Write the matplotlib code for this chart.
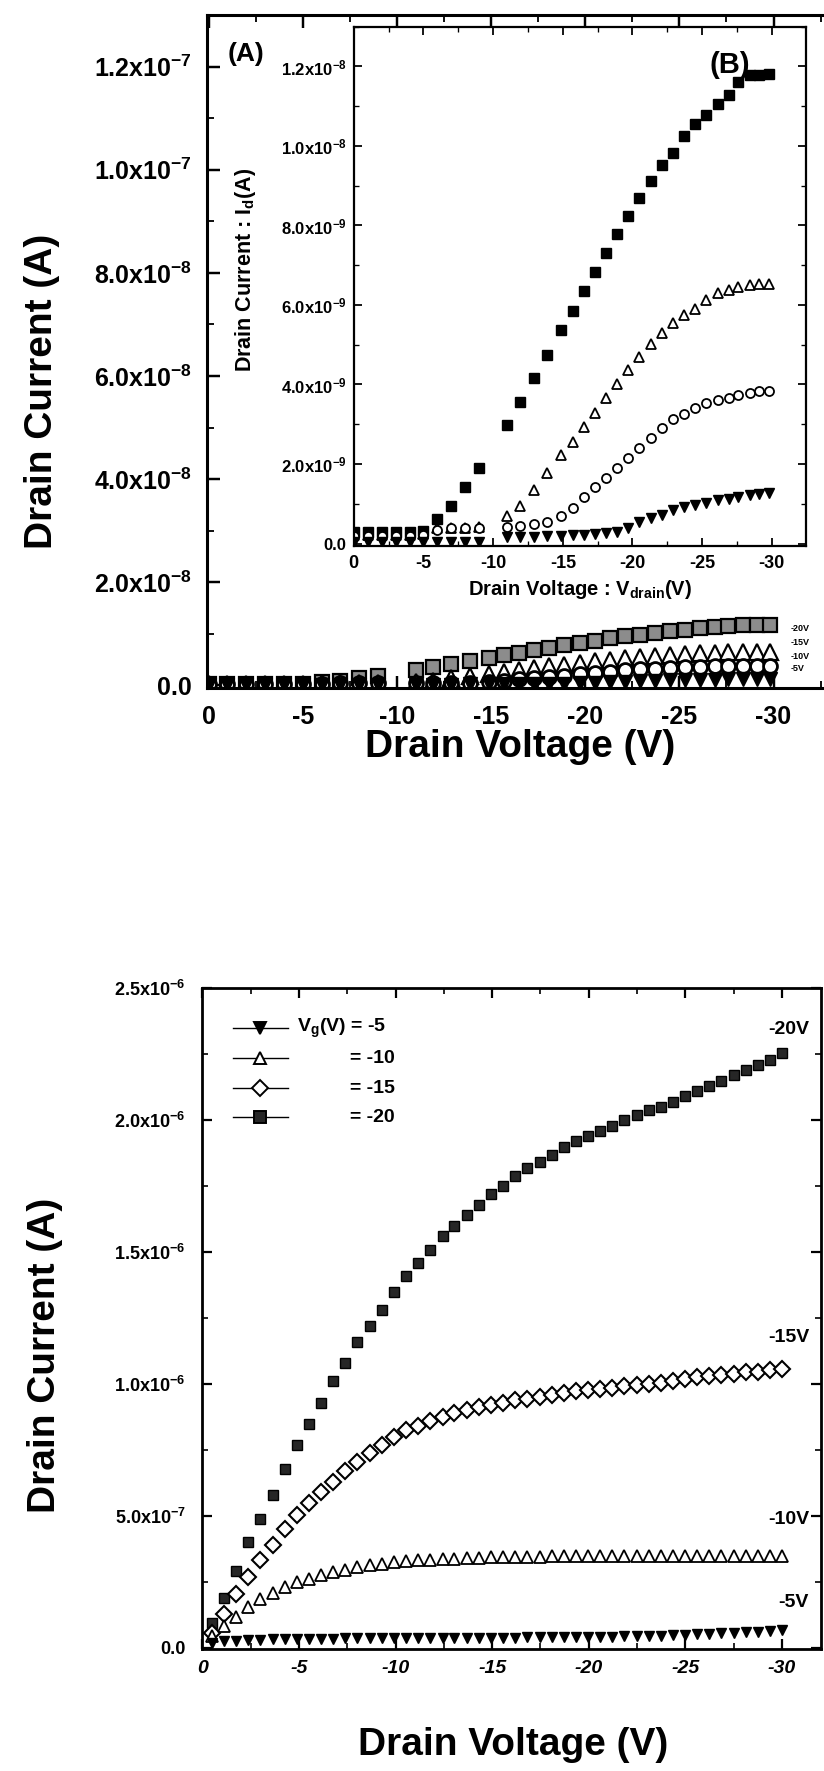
import matplotlib
matplotlib.use('Agg')
import numpy as np
import matplotlib.pyplot as plt
from matplotlib.lines import Line2D
from matplotlib.ticker import FixedLocator, MultipleLocator

plt.rcParams['font.family'] = ['Liberation Sans', 'DejaVu Sans']
plt.rcParams['font.weight'] = 'bold'
plt.rcParams['mathtext.fontset'] = 'custom'
plt.rcParams['mathtext.rm'] = 'Liberation Sans:bold'
plt.rcParams['mathtext.bf'] = 'Liberation Sans:bold'
plt.rcParams['mathtext.it'] = 'Liberation Sans:italic:bold'
plt.rcParams['mathtext.sf'] = 'Liberation Sans:bold'
plt.rcParams['mathtext.default'] = 'bf'
plt.rcParams['axes.unicode_minus'] = False

# ---------------- data: top panel (A) and inset (B) ----------------
vd_top = [0, -1, -2, -3, -4, -5, -6, -7, -8, -9,
          -11.0, -11.9, -12.9, -13.9, -14.9, -15.7, -16.5, -17.3, -18.1, -18.9,
          -19.7, -20.5, -21.3, -22.1, -22.9, -23.7, -24.5, -25.3, -26.1, -26.9,
          -27.6, -28.4, -29.1, -29.8]
# drain current in units of 1e-9 A
id_top_vg20 = [0.30, 0.30, 0.30, 0.30, 0.30, 0.32, 0.62, 0.94, 1.41, 1.89,
               2.98, 3.57, 4.17, 4.74, 5.37, 5.85, 6.35, 6.83, 7.32, 7.78,
               8.24, 8.68, 9.11, 9.51, 9.82, 10.25, 10.56, 10.77, 11.06, 11.27,
               11.60, 11.78, 11.79, 11.80]
id_top_vg15 = [0.22, 0.22, 0.22, 0.22, 0.22, 0.25, 0.38, 0.40, 0.40, 0.42,
               0.68, 0.94, 1.35, 1.78, 2.23, 2.56, 2.94, 3.29, 3.67, 4.01,
               4.36, 4.70, 5.01, 5.30, 5.54, 5.74, 5.91, 6.12, 6.29, 6.37,
               6.45, 6.50, 6.52, 6.53]
id_top_vg10 = [0.20, 0.20, 0.20, 0.20, 0.20, 0.22, 0.35, 0.38, 0.38, 0.40,
               0.41, 0.43, 0.49, 0.55, 0.68, 0.90, 1.16, 1.41, 1.66, 1.91,
               2.15, 2.40, 2.65, 2.90, 3.12, 3.27, 3.40, 3.53, 3.61, 3.67,
               3.73, 3.78, 3.83, 3.84]
id_top_vg5 = [0.05, 0.05, 0.05, 0.05, 0.05, 0.05, 0.05, 0.05, 0.05, 0.05,
              0.16, 0.16, 0.17, 0.19, 0.19, 0.22, 0.22, 0.24, 0.26, 0.30,
              0.38, 0.55, 0.64, 0.72, 0.84, 0.91, 0.97, 1.03, 1.10, 1.13,
              1.18, 1.21, 1.25, 1.26]
top_curve_labels = ['-20V', '-15V', '-10V', '-5V']

a_xticks = [0, -5, -10, -15, -20, -25, -30]
a_xticklabels = ['0', '-5', '-10', '-15', '-20', '-25', '-30']
a_yticks = [0, 2e-8, 4e-8, 6e-8, 8e-8, 1.0e-7, 1.2e-7]
a_yticklabels = ['0.0', r'2.0x10$^{-8}$', r'4.0x10$^{-8}$', r'6.0x10$^{-8}$',
                 r'8.0x10$^{-8}$', r'1.0x10$^{-7}$', r'1.2x10$^{-7}$']
b_yticks = [0, 2e-9, 4e-9, 6e-9, 8e-9, 1.0e-8, 1.2e-8]
b_yticklabels = ['0.0', r'2.0x10$^{-9}$', r'4.0x10$^{-9}$', r'6.0x10$^{-9}$',
                 r'8.0x10$^{-9}$', r'1.0x10$^{-8}$', r'1.2x10$^{-8}$']

# ---------------- data: bottom panel ----------------
vd_bot = [-0.50, -1.13, -1.76, -2.38, -3.01, -3.64, -4.27, -4.89, -5.52, -6.15,
          -6.78, -7.40, -8.03, -8.66, -9.29, -9.92, -10.54, -11.17, -11.80, -12.43,
          -13.05, -13.68, -14.31, -14.94, -15.56, -16.19, -16.82, -17.45, -18.07, -18.70,
          -19.33, -19.96, -20.58, -21.21, -21.84, -22.47, -23.10, -23.72, -24.35, -24.98,
          -25.61, -26.23, -26.86, -27.49, -28.12, -28.74, -29.37, -30.00]
# drain current in units of 1e-6 A
id_bot_vg20 = [0.094, 0.19, 0.29, 0.40, 0.49, 0.58, 0.68, 0.77, 0.85, 0.93,
               1.01, 1.08, 1.16, 1.22, 1.28, 1.35, 1.41, 1.46, 1.51, 1.56,
               1.60, 1.64, 1.68, 1.72, 1.75, 1.79, 1.82, 1.84, 1.87, 1.90,
               1.92, 1.94, 1.96, 1.98, 2.00, 2.02, 2.04, 2.05, 2.07, 2.09,
               2.11, 2.13, 2.15, 2.17, 2.19, 2.21, 2.23, 2.255]
id_bot_vg15 = [0.055, 0.13, 0.205, 0.27, 0.335, 0.39, 0.45, 0.505, 0.55, 0.59,
               0.63, 0.67, 0.705, 0.74, 0.77, 0.80, 0.825, 0.84, 0.86, 0.875,
               0.89, 0.903, 0.912, 0.92, 0.93, 0.938, 0.945, 0.952, 0.96, 0.966,
               0.972, 0.977, 0.982, 0.987, 0.992, 0.995, 1.00, 1.006, 1.013, 1.02,
               1.026, 1.031, 1.035, 1.04, 1.044, 1.047, 1.052, 1.057]
id_bot_vg10 = [0.045, 0.085, 0.118, 0.155, 0.185, 0.207, 0.232, 0.25, 0.263, 0.275,
               0.287, 0.297, 0.306, 0.313, 0.32, 0.325, 0.329, 0.332, 0.335, 0.337,
               0.339, 0.341, 0.342, 0.343, 0.344, 0.345, 0.346, 0.346, 0.347, 0.347,
               0.347, 0.347, 0.348, 0.348, 0.348, 0.348, 0.348, 0.348, 0.349, 0.349,
               0.349, 0.349, 0.349, 0.349, 0.35, 0.35, 0.35, 0.35]
id_bot_vg5 = [0.02, 0.025, 0.028, 0.03, 0.032, 0.033, 0.034, 0.034, 0.035, 0.035,
              0.035, 0.036, 0.036, 0.036, 0.036, 0.037, 0.037, 0.037, 0.037, 0.038,
              0.038, 0.038, 0.038, 0.039, 0.039, 0.039, 0.04, 0.04, 0.04, 0.041,
              0.041, 0.042, 0.042, 0.043, 0.044, 0.045, 0.046, 0.047, 0.048, 0.05,
              0.052, 0.053, 0.055, 0.057, 0.059, 0.062, 0.065, 0.068]
legend_labels = [r'V$_g$(V) = -5', '= -10', '= -15', '= -20']
bot_curve_labels = ['-20V', '-15V', '-10V', '-5V']
c_yticks = [0, 5e-7, 1.0e-6, 1.5e-6, 2.0e-6, 2.5e-6]
c_yticklabels = ['0.0', r'5.0x10$^{-7}$', r'1.0x10$^{-6}$', r'1.5x10$^{-6}$',
                 r'2.0x10$^{-6}$', r'2.5x10$^{-6}$']

# ---------------- figure ----------------
W, H = 824, 1771
fig = plt.figure(figsize=(W / 100, H / 100), dpi=100)


def frac(left, top, right, bottom):
    return [left / W, 1 - bottom / H, (right - left) / W, (bottom - top) / H]


def style_axes(ax, lw, maj, mnr, pad_x, pad_y, right=True):
    for s in ax.spines.values():
        s.set_linewidth(lw)
    ax.tick_params(which='both', direction='in', top=True, right=right)
    ax.tick_params(which='major', length=maj, width=lw * 0.8)
    ax.tick_params(which='minor', length=mnr, width=lw * 0.6)
    ax.tick_params(axis='x', which='major', pad=pad_x)
    ax.tick_params(axis='y', which='major', pad=pad_y)


# ---- panel A ----
ax1 = fig.add_axes(frac(207, 15, 830, 688))
vt = np.array(vd_top)
ax1.plot(vt, np.array(id_top_vg20) * 1e-9, 's', ms=10.5, mfc='0.55', mec='k', mew=1.6, ls='none')
ax1.plot(vt, np.array(id_top_vg15) * 1e-9, '^', ms=11, mfc='white', mec='k', mew=1.6, ls='none')
ax1.plot(vt, np.array(id_top_vg10) * 1e-9, 'o', ms=10, mfc='white', mec='k', mew=2.0, ls='none')
ax1.plot(vt, np.array(id_top_vg5) * 1e-9, 'v', ms=10, mfc='k', mec='k', mew=1.0, ls='none')
ax1.set_xlim(0.08, -33.0)
ax1.set_ylim(-5e-10, 1.3e-7)
ax1.xaxis.set_major_locator(FixedLocator(a_xticks))
ax1.set_xticklabels(a_xticklabels, fontsize=18, fontweight='bold')
ax1.xaxis.set_minor_locator(MultipleLocator(2.5))
ax1.yaxis.set_major_locator(FixedLocator(a_yticks))
ax1.set_yticklabels(a_yticklabels, fontsize=18, fontweight='bold')
ax1.yaxis.set_minor_locator(MultipleLocator(1e-8))
style_axes(ax1, 2.2, 9, 5, 12, 11, right=False)
label_y_a = [1.11e-8, 0.84e-8, 0.57e-8, 0.32e-8]
for lab, yy in zip(top_curve_labels, label_y_a):
    ax1.text(-30.9, yy, lab, fontsize=6.5, fontweight='bold', ha='left', va='center')

fig.text(42 / W, 1 - 391 / H, 'Drain Current (A)', rotation=90, fontsize=28,
         fontweight='bold', ha='center', va='center')
fig.text(520 / W, 1 - 747 / H, 'Drain Voltage (V)', fontsize=28,
         fontweight='bold', ha='center', va='center')
fig.text(228 / W, 1 - 54 / H, '(A)', fontsize=19, fontweight='bold', ha='left', va='center')

# ---- inset B ----
ax2 = fig.add_axes(frac(353.5, 26.7, 806, 545.5))
ax2.set_facecolor('white')
ax2.plot(vt, np.array(id_top_vg20) * 1e-9, 's', ms=6.5, mfc='k', mec='k', mew=1.0, ls='none')
ax2.plot(vt, np.array(id_top_vg15) * 1e-9, '^', ms=7, mfc='white', mec='k', mew=1.3, ls='none')
ax2.plot(vt, np.array(id_top_vg10) * 1e-9, 'o', ms=6.5, mfc='white', mec='k', mew=1.3, ls='none')
ax2.plot(vt, np.array(id_top_vg5) * 1e-9, 'v', ms=7, mfc='k', mec='k', mew=1.0, ls='none')
ax2.set_xlim(0.02, -32.45)
ax2.set_ylim(-5e-11, 1.3e-8)
ax2.xaxis.set_major_locator(FixedLocator(a_xticks))
ax2.set_xticklabels(a_xticklabels, fontsize=13, fontweight='bold')
ax2.xaxis.set_minor_locator(MultipleLocator(2.5))
ax2.yaxis.set_major_locator(FixedLocator(b_yticks))
ax2.set_yticklabels(b_yticklabels, fontsize=12, fontweight='bold')
ax2.yaxis.set_minor_locator(MultipleLocator(1e-9))
style_axes(ax2, 1.6, 6, 3.5, 7, 5)
ax2.set_xlabel(r'Drain Voltage : V$_{drain}$(V)', fontsize=14.5, fontweight='bold', labelpad=4)
fig.text(246 / W, 1 - 270 / H, r'Drain Current : I$_d$(A)', rotation=90, fontsize=15.5,
         fontweight='bold', ha='center', va='center')
fig.text(730 / W, 1 - 65 / H, '(B)', fontsize=21, fontweight='bold', ha='center', va='center')

# ---- bottom panel ----
ax3 = fig.add_axes(frac(202.3, 988.3, 820.7, 1649.3))
vb = np.array(vd_bot)
ax3.plot(vb, np.array(id_bot_vg20) * 1e-6, 's', ms=7, mfc='0.15', mec='k', mew=1.0, ls='none')
ax3.plot(vb, np.array(id_bot_vg15) * 1e-6, 'D', ms=8, mfc='white', mec='k', mew=1.5, ls='none')
ax3.plot(vb, np.array(id_bot_vg10) * 1e-6, '^', ms=8, mfc='white', mec='k', mew=1.3, ls='none')
ax3.plot(vb, np.array(id_bot_vg5) * 1e-6, 'v', ms=7.5, mfc='k', mec='k', mew=1.0, ls='none')
ax3.set_xlim(0, -32)
ax3.set_ylim(-5e-9, 2.5e-6)
ax3.xaxis.set_major_locator(FixedLocator(a_xticks))
ax3.set_xticklabels(a_xticklabels, fontsize=14, fontweight='bold', fontstyle='italic')
ax3.xaxis.set_minor_locator(MultipleLocator(2.5))
ax3.yaxis.set_major_locator(FixedLocator(c_yticks))
ax3.set_yticklabels(c_yticklabels, fontsize=13, fontweight='bold')
ax3.yaxis.set_minor_locator(MultipleLocator(2.5e-7))
style_axes(ax3, 2.0, 7, 4, 8, 12)

leg_markers = [dict(marker='v', mfc='k'), dict(marker='^', mfc='white'),
               dict(marker='D', mfc='white'), dict(marker='s', mfc='0.15')]
leg_rows = [0.9399, 0.8945, 0.8491, 0.8052]
leg_text_x = [0.153, 0.2388, 0.2388, 0.2388]
for mk, yy, tx, lab in zip(leg_markers, leg_rows, leg_text_x, legend_labels):
    ax3.add_line(Line2D([0.0496, 0.1386], [yy, yy], transform=ax3.transAxes, color='k', lw=1.0))
    ax3.add_line(Line2D([0.0933], [yy], transform=ax3.transAxes, ls='none', marker=mk['marker'],
                        ms=8, mfc=mk['mfc'], mec='k', mew=1.4))
    ax3.text(tx, yy, lab, transform=ax3.transAxes, fontsize=14, fontweight='bold',
             ha='left', va='center')

label_y_c = [2.344e-6, 1.176e-6, 0.486e-6, 0.171e-6]
for lab, yy in zip(bot_curve_labels, label_y_c):
    ax3.text(-31.4, yy, lab, fontsize=14, fontweight='bold', ha='right', va='center')

fig.text(45 / W, 1 - 1355 / H, 'Drain Current (A)', rotation=90, fontsize=28,
         fontweight='bold', ha='center', va='center')
fig.text(513 / W, 1 - 1745 / H, 'Drain Voltage (V)', fontsize=28,
         fontweight='bold', ha='center', va='center')

fig.savefig('out.png', dpi=100)
